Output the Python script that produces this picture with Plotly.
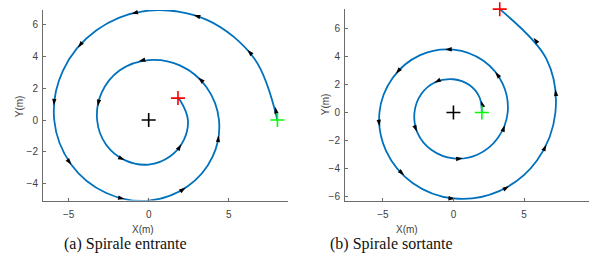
import numpy as np
import plotly.graph_objects as go

# ---------------- data ----------------
# (a) inward spiral: polar angle (deg, CCW from +X) and radius (m) along the path
in_theta = [0, 30, 60, 90, 120, 150, 180, 210, 240, 270, 300, 330, 360, 390, 420,
            450, 480, 510, 540, 570, 600, 630, 660, 690, 720, 750, 757]
in_radius = [8.04, 7.65, 7.27, 6.88, 6.52, 6.19, 5.90, 5.59, 5.30, 5.07, 4.83, 4.61,
             4.39, 4.16, 3.95, 3.77, 3.61, 3.40, 3.22, 3.08, 2.93, 2.80, 2.65, 2.53,
             2.45, 2.32, 2.29]
in_arrow_theta = [6.0, 35.6, 66.9, 99.2, 134.1, 171.2, 210.2, 253.2, 298.5, 347.6,
                  400.7, 459.6, 524.6, 599.2, 683.3]
in_arrow_radius = [7.94, 7.59, 7.17, 6.76, 6.35, 5.99, 5.59, 5.18, 4.84, 4.48,
                   4.09, 3.74, 3.29, 2.93, 2.54]

# (b) outward spiral
out_theta = [0, 30, 60, 90, 120, 150, 180, 210, 240, 270, 300, 330, 360, 390, 420,
             450, 480, 510, 540, 570, 600, 630, 660, 690, 720, 750, 786]
out_radius = [2.01, 2.14, 2.26, 2.37, 2.51, 2.63, 2.76, 2.93, 3.09, 3.27, 3.45, 3.63,
              3.84, 4.04, 4.25, 4.48, 4.72, 4.96, 5.24, 5.50, 5.79, 6.12, 6.47, 6.83,
              7.22, 7.61, 8.06]
out_arrow_theta = [23.0, 122.4, 207.8, 281.4, 346.1, 404.2, 457.5, 505.8, 550.7,
                   592.0, 631.1, 666.9, 700.8, 732.9, 763.2]
out_arrow_radius = [2.13, 2.52, 2.93, 3.33, 3.75, 4.13, 4.53, 4.92, 5.34, 5.67,
                    6.15, 6.56, 6.96, 7.40, 7.78]

center_x = [0]
center_y = [0]

x_ticks = [-5, 0, 5]
in_y_ticks = [-4, -2, 0, 2, 4, 6]
out_y_ticks = [-6, -4, -2, 0, 2, 4, 6]

captions = ["(a) Spirale entrante", "(b) Spirale sortante"]

# ---------------- helpers ----------------
LINE = "#0072BD"
AXC = "#6b6b6b"
TXT = "#404040"


def polar_to_xy(theta_deg, radius):
    t = np.radians(np.asarray(theta_deg, float))
    r = np.asarray(radius, float)
    return r * np.cos(t), r * np.sin(t)


def arrow_angles(theta_deg, radius, a_theta, a_radius):
    t = np.radians(np.asarray(theta_deg, float))
    r = np.asarray(radius, float)
    drdt = np.gradient(r, t)
    at = np.radians(np.asarray(a_theta, float))
    ar = np.asarray(a_radius, float)
    ad = np.interp(at, t, drdt)
    alpha = at + np.arctan2(ar, ad)          # heading, CCW from +x
    return 90.0 - np.degrees(alpha)          # plotly: clockwise from up


fig = go.Figure()


def add_spiral(theta, radius, a_theta, a_radius, xa, ya):
    x, y = polar_to_xy(theta, radius)
    fig.add_trace(go.Scatter(x=x, y=y, mode="lines", xaxis=xa, yaxis=ya,
                             line=dict(color=LINE, width=1.8, shape="spline", smoothing=1.0),
                             hoverinfo="skip", showlegend=False, cliponaxis=False))
    ax, ay = polar_to_xy(a_theta, a_radius)
    ang = arrow_angles(theta, radius, a_theta, a_radius)
    fig.add_trace(go.Scatter(x=ax, y=ay, mode="markers", xaxis=xa, yaxis=ya,
                             marker=dict(symbol="arrow", size=7, angle=ang, color="black",
                                         line=dict(width=0)),
                             hoverinfo="skip", showlegend=False, cliponaxis=False))
    # center, start, end markers
    for px, py, col in [(center_x, center_y, "black"), ([x[0]], [y[0]], "#00FF00"),
                        ([x[-1]], [y[-1]], "#FF0000")]:
        fig.add_trace(go.Scatter(x=px, y=py, mode="markers", xaxis=xa, yaxis=ya,
                                 marker=dict(symbol="cross-thin", size=10,
                                             line=dict(color=col, width=1.6)),
                                 hoverinfo="skip", showlegend=False, cliponaxis=False))


add_spiral(in_theta, in_radius, in_arrow_theta, in_arrow_radius, "x", "y")
add_spiral(out_theta, out_radius, out_arrow_theta, out_arrow_radius, "x2", "y2")

W, H = 598, 274


def axis_common(**kw):
    d = dict(showline=True, linecolor=AXC, linewidth=1, mirror=False,
             showgrid=False, zeroline=False, ticks="inside", ticklen=3,
             tickcolor=AXC, tickwidth=1,
             tickfont=dict(family="Liberation Sans, Arial", size=10, color=TXT))
    d.update(kw)
    return d


fig.update_layout(
    width=W, height=H, margin=dict(l=0, r=0, t=0, b=0),
    paper_bgcolor="white", plot_bgcolor="white",
    xaxis=axis_common(domain=[43 / W, 288 / W], range=[-6.6, 8.7], tickvals=x_ticks,
                      anchor="y", ticklabelstandoff=4),
    yaxis=axis_common(domain=[1 - 202 / H, 1 - 10 / H], range=[-5.06, 6.92],
                      tickvals=in_y_ticks, anchor="x", ticklabelstandoff=2),
    xaxis2=axis_common(domain=[345 / W, 589 / W], range=[-7.68, 9.6], tickvals=x_ticks,
                       anchor="y2", ticklabelstandoff=4),
    yaxis2=axis_common(domain=[1 - 202 / H, 1 - 9 / H], range=[-6.27, 7.38],
                       tickvals=out_y_ticks, anchor="x2", ticklabelstandoff=2),
)

ann = []
for xp, yp in [(143, 231), (407, 231)]:
    ann.append(dict(x=xp / W, y=1 - yp / H, xref="paper", yref="paper", text="X(m)",
                    showarrow=False, xanchor="center", yanchor="middle",
                    font=dict(family="Liberation Sans, Arial", size=10, color=TXT)))
for xp, yp in [(19, 107), (325, 105)]:
    ann.append(dict(x=xp / W, y=1 - yp / H, xref="paper", yref="paper", text="Y(m)",
                    showarrow=False, textangle=-90, xanchor="center", yanchor="middle",
                    font=dict(family="Liberation Sans, Arial", size=10, color=TXT)))
for (xp, yp), txt in zip([(125, 246), (391, 246)], captions):
    ann.append(dict(x=xp / W, y=1 - yp / H, xref="paper", yref="paper", text=txt,
                    showarrow=False, xanchor="center", yanchor="middle",
                    font=dict(family="Liberation Serif, Times New Roman", size=16,
                              color="#111111")))
fig.update_layout(annotations=ann)

fig.write_html("out.html")
